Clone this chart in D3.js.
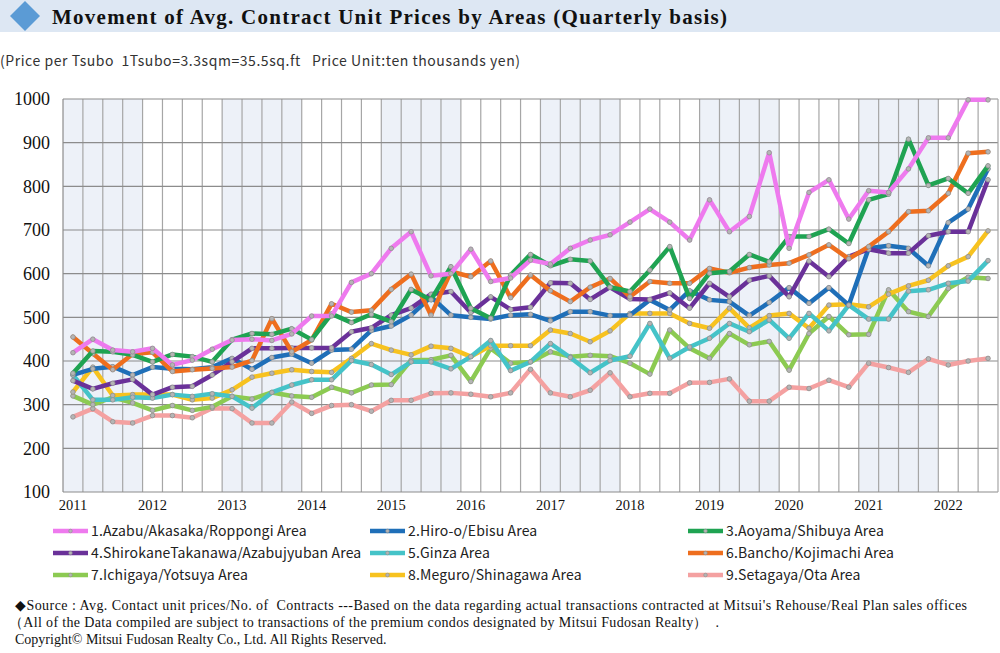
<!DOCTYPE html>
<html><head><meta charset="utf-8">
<script src="https://cdn.jsdelivr.net/npm/d3@7"></script>
<style>body{margin:0;background:#fff;}svg{display:block;}</style>
</head><body>
<svg id="c" width="1000" height="653"></svg>
<script>
const years = ["2011","2012","2013","2014","2015","2016","2017","2018","2019","2020","2021","2022"];
const quarters = [];
years.forEach(y => ["Q1","Q2","Q3","Q4"].forEach(q => quarters.push(y + q)));
const periods = quarters.slice(0, 47);
const yTicks = [100,200,300,400,500,600,700,800,900,1000];

const azabu = [419,450,425,421,429,391,402,427,448,450,447,462,503,503,580,600,658,696,595,600,656,582,590,631,622,658,677,689,718,748,718,677,769,696,731,877,658,786,815,725,790,786,840,911,911,998,998];
const hiroo = [368,382,387,368,386,382,381,386,406,381,408,416,395,425,427,470,480,505,547,505,500,496,505,507,492,513,513,504,505,540,517,561,540,536,504,534,568,532,568,528,658,664,658,618,717,748,840];
const aoyama = [372,423,421,414,398,415,410,398,449,463,461,474,449,508,488,507,490,564,540,616,521,498,597,644,618,633,629,569,559,608,662,543,601,605,644,627,685,685,702,669,769,782,908,802,818,784,847];
const shirokane = [355,336,349,358,323,340,342,368,398,429,429,430,430,430,467,476,505,521,553,559,511,547,518,523,579,578,541,569,542,541,556,521,578,547,585,595,547,629,593,639,656,647,647,687,696,696,815];
const ginza = [368,311,311,317,315,323,319,325,319,292,328,345,357,357,401,392,369,398,398,382,410,447,378,398,440,408,373,401,411,486,406,432,452,486,467,494,452,509,469,528,496,496,560,563,578,583,630];
const bancho = [455,417,380,416,420,376,380,383,386,401,497,421,448,531,512,516,564,599,505,605,593,629,545,597,561,536,569,589,547,582,578,578,612,602,614,620,624,643,666,634,662,696,742,744,784,876,879];
const ichigaya = [320,300,317,304,287,298,287,295,319,313,328,320,317,340,327,345,346,402,403,413,353,429,395,398,421,410,413,411,395,370,471,429,406,463,437,445,379,463,502,460,461,563,513,502,566,592,589];
const meguro = [329,386,321,323,323,323,311,315,334,363,372,380,376,374,406,440,425,414,434,429,410,435,435,435,471,463,444,469,509,509,509,486,475,521,476,504,509,475,528,530,524,553,572,585,618,639,698];
const setagaya = [272,291,261,258,275,275,270,292,291,258,258,306,280,298,300,285,310,310,326,327,324,318,327,381,327,318,333,373,318,326,326,350,351,359,308,308,340,337,356,340,395,385,374,405,391,400,406];

const seriesNames = ["1.Azabu/Akasaka/Roppongi Area","2.Hiro-o/Ebisu Area","3.Aoyama/Shibuya Area","4.ShirokaneTakanawa/Azabujyuban Area","5.Ginza Area","6.Bancho/Kojimachi Area","7.Ichigaya/Yotsuya Area","8.Meguro/Shinagawa Area","9.Setagaya/Ota Area"];
const seriesValues = [azabu, hiroo, aoyama, shirokane, ginza, bancho, ichigaya, meguro, setagaya];
const colors = ["#EE7AEE","#1F6FB8","#1FA352","#6A3199","#45C3C8","#EE6E1E","#8CCA52","#F7C21F","#F4A1A1"];

const svg = d3.select("#c");

// title band
svg.append("rect").attr("x",0).attr("y",0).attr("width",1000).attr("height",32).attr("fill","#DDE7F3");
svg.append("path").attr("d","M25,1 L40,16 L25,31 L10,16 Z").attr("fill","#5B9BD5");
svg.append("text").attr("x",52).attr("y",24).attr("font-family","Liberation Serif, serif").attr("font-weight","bold")
  .attr("font-size",21).attr("textLength",675).attr("lengthAdjust","spacing").attr("fill","#111")
  .text("Movement of Avg. Contract Unit Prices by Areas (Quarterly basis)");
svg.append("text").attr("x",0).attr("y",66).attr("font-family","Noto Sans CJK JP, sans-serif").attr("font-size",14).attr("fill","#333")
  .attr("textLength",520).attr("lengthAdjust","spacing").style("white-space","pre")
  .text("(Price per Tsubo  1Tsubo=3.3sqm=35.5sq.ft   Price Unit:ten thousands yen)");

const L = 63, R = 998, T = 99, B = 492;
const x = d3.scaleBand().domain(periods).range([L, R]).padding(0);
const y = d3.scaleLinear().domain([100, 1000]).range([B, T]);

// shaded alternate years
const g = svg.append("g");
years.forEach((yr, i) => {
  if (i % 2 === 0) {
    const qs = periods.filter(p => p.startsWith(yr));
    if (!qs.length) return;
    g.append("rect").attr("x", x(qs[0])).attr("y", T).attr("width", x.bandwidth()*qs.length).attr("height", B-T).attr("fill","#EDF1F8");
  }
});
// vertical grid
periods.forEach((p, i) => {
  if (i === 0) return;
  g.append("line").attr("x1", x(p)).attr("x2", x(p)).attr("y1", T).attr("y2", B).attr("stroke","#A6A6A6").attr("stroke-width",1.2);
});
// horizontal grid
yTicks.forEach(t => {
  g.append("line").attr("x1", L).attr("x2", R).attr("y1", y(t)).attr("y2", y(t)).attr("stroke","#8C8C8C").attr("stroke-width",1.2);
});
g.append("line").attr("x1",L).attr("x2",L).attr("y1",T).attr("y2",B).attr("stroke","#8C8C8C").attr("stroke-width",1.2);
g.append("line").attr("x1",R).attr("x2",R).attr("y1",T).attr("y2",B).attr("stroke","#A6A6A6").attr("stroke-width",1.2);

// y labels
const yAxis = d3.axisLeft(y).tickValues(yTicks).tickFormat(d3.format("d")).tickSize(0).tickPadding(13);
const ya = svg.append("g").attr("transform",`translate(${L},0)`).call(yAxis);
ya.select(".domain").remove();
ya.selectAll("text").attr("font-family","Liberation Serif, serif").attr("font-size",18).attr("fill","#111");

// x labels
const xAxis = d3.axisBottom(x).tickValues(periods.filter(p => p.endsWith("Q1"))).tickFormat(p => p.slice(0,4)).tickSize(0).tickPadding(8);
const xa = svg.append("g").attr("transform",`translate(0,${B})`).call(xAxis);
xa.select(".domain").remove();
xa.selectAll("text").attr("font-family","Liberation Serif, serif").attr("font-size",14.5).attr("fill","#111");

// lines
const line = d3.line().x((d,i) => x(periods[i]) + x.bandwidth()/2).y(d => y(d));
const drawOrder = [8,6,7,4,1,3,5,2,0];
drawOrder.forEach(si => {
  const vals = seriesValues[si];
  svg.append("path").datum(vals).attr("d", line).attr("fill","none").attr("stroke", colors[si])
    .attr("stroke-width",4.5).attr("stroke-linejoin","round").attr("stroke-linecap","round");
  svg.append("g").selectAll("circle").data(vals).join("circle")
    .attr("cx",(d,i) => x(periods[i]) + x.bandwidth()/2).attr("cy", d => y(d)).attr("r",2.3)
    .attr("fill","#B5B5B5").attr("stroke","#8F8F8F").attr("stroke-width",0.8);
});

// legend
const legCols = [53, 370, 688];
const legRows = [531, 553, 575];
seriesNames.forEach((n, i) => {
  const cx = legCols[i % 3], cy = legRows[Math.floor(i / 3)];
  const lg = svg.append("g");
  lg.append("line").attr("x1",cx).attr("x2",cx+35).attr("y1",cy).attr("y2",cy).attr("stroke",colors[i]).attr("stroke-width",4.5);
  lg.append("circle").attr("cx",cx+17.5).attr("cy",cy).attr("r",1.8).attr("fill","#B5B5B5").attr("stroke","#8F8F8F").attr("stroke-width",0.6);
  lg.append("text").attr("x",cx+38).attr("y",cy+5).attr("font-family","Noto Sans CJK JP, sans-serif").attr("font-size",14)
    .attr("letter-spacing","0.15px").attr("fill","#222").text(n);
});

// footer
const foot = [
  "◆Source : Avg. Contact unit prices/No. of  Contracts ---Based on the data regarding actual transactions contracted at Mitsui's Rehouse/Real Plan sales offices",
  "（All of the Data compiled are subject to transactions of the premium condos designated by Mitsui Fudosan Realty）  .",
  "Copyright© Mitsui Fudosan Realty Co., Ltd. All Rights Reserved."
];
const fy = [610, 627, 644];
const fLen = [952, 710, null];
foot.forEach((t, i) => {
  const tx = svg.append("text").attr("x", i===1 ? 9 : 15).attr("y", fy[i]).attr("font-family","Liberation Serif, serif").attr("font-size",14)
    .attr("fill","#111").style("white-space","pre").text(t);
  if (fLen[i]) tx.attr("textLength", fLen[i]).attr("lengthAdjust","spacing");
});
</script>
</body></html>
